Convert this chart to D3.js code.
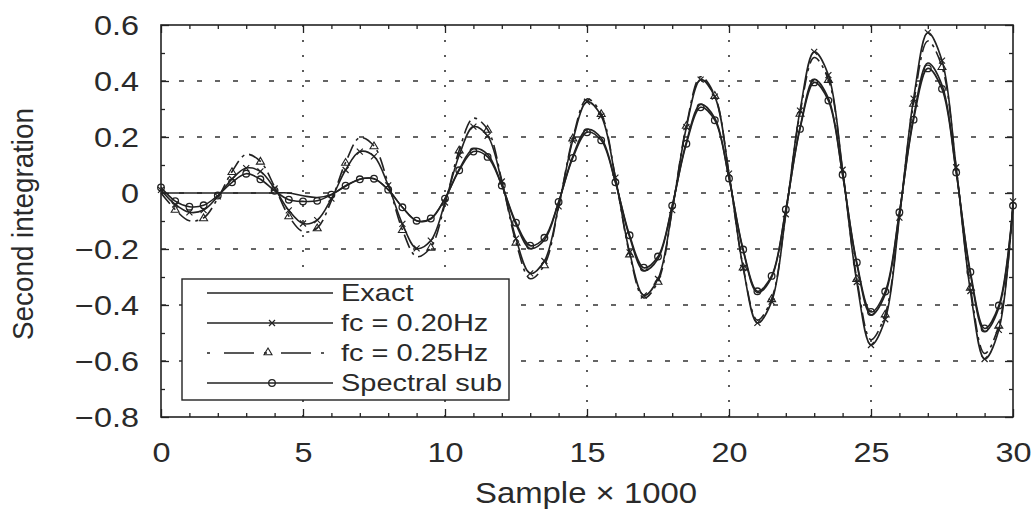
<!DOCTYPE html>
<html>
<head>
<meta charset="utf-8">
<script src="https://cdn.jsdelivr.net/npm/d3@7"></script>
<style>
  html, body { margin: 0; padding: 0; background: #fff; }
  svg { display: block; }
  text { font-family: "Liberation Sans", Arial, Helvetica, sans-serif; fill: #2a2a2a; }
</style>
</head>
<body>
<svg id="chart" width="1034" height="516"></svg>
<script>
// ---------------- data ----------------
const samples = [0,0.5,1,1.5,2,2.5,3,3.5,4,4.5,5,5.5,6,6.5,7,7.5,8,8.5,9,9.5,10,10.5,11,11.5,12,12.5,13,13.5,14,14.5,15,15.5,16,16.5,17,17.5,18,18.5,19,19.5,20,20.5,21,21.5,22,22.5,23,23.5,24,24.5,25,25.5,26,26.5,27,27.5,28,28.5,29,29.5,30];

const exact = [0,0,0,0,0,0,0,0,0,0,-0.01,-0.016,-0.005,0.024,0.049,0.051,0.012,-0.051,-0.099,-0.093,-0.02,0.085,0.158,0.138,0.028,-0.112,-0.198,-0.168,-0.034,0.131,0.227,0.196,0.04,-0.157,-0.277,-0.235,-0.047,0.182,0.316,0.267,0.053,-0.206,-0.356,-0.301,-0.06,0.234,0.405,0.338,0.066,-0.254,-0.435,-0.362,-0.071,0.272,0.464,0.386,0.076,-0.29,-0.494,-0.411,-0.05];

const fc020 = [0.011,-0.041,-0.069,-0.061,-0.012,0.05,0.089,0.077,0.016,-0.062,-0.109,-0.097,-0.02,0.082,0.148,0.131,0.027,-0.11,-0.198,-0.17,-0.034,0.135,0.237,0.204,0.041,-0.163,-0.287,-0.243,-0.048,0.188,0.326,0.275,0.055,-0.212,-0.366,-0.307,-0.061,0.235,0.405,0.344,0.069,-0.268,-0.464,-0.388,-0.076,0.294,0.504,0.421,0.083,-0.318,-0.543,-0.451,-0.088,0.337,0.573,0.473,0.092,-0.35,-0.593,-0.489,-0.03];

const fc025 = [0,-0.059,-0.099,-0.089,-0.019,0.076,0.138,0.113,0.022,-0.082,-0.138,-0.125,-0.027,0.109,0.198,0.168,0.034,-0.131,-0.227,-0.194,-0.039,0.153,0.267,0.227,0.045,-0.176,-0.306,-0.257,-0.051,0.196,0.336,0.283,0.056,-0.218,-0.375,-0.316,-0.062,0.241,0.415,0.348,0.069,-0.265,-0.454,-0.378,-0.074,0.284,0.484,0.405,0.08,-0.306,-0.524,-0.433,-0.084,0.32,0.543,0.451,0.088,-0.337,-0.573,-0.473,-0.04];

const spectral = [0.02,-0.029,-0.049,-0.044,-0.009,0.038,0.069,0.049,0.008,-0.024,-0.03,-0.028,-0.006,0.026,0.049,0.051,0.012,-0.051,-0.099,-0.091,-0.02,0.081,0.148,0.129,0.027,-0.106,-0.188,-0.16,-0.032,0.125,0.217,0.188,0.038,-0.151,-0.267,-0.227,-0.045,0.176,0.306,0.26,0.052,-0.202,-0.351,-0.296,-0.059,0.229,0.395,0.33,0.065,-0.248,-0.425,-0.352,-0.069,0.262,0.445,0.372,0.073,-0.282,-0.484,-0.402,-0.045];

const seriesNames = ["Exact", "fc = 0.20Hz", "fc = 0.25Hz", "Spectral sub"];

const xTicks = [0,5,10,15,20,25,30];
const xMinorTicks = [1,2,3,4,6,7,8,9,11,12,13,14,16,17,18,19,21,22,23,24,26,27,28,29];
const yTicks = [-0.8,-0.6,-0.4,-0.2,0,0.2,0.4,0.6];
const yMinorTicks = [-0.7,-0.5,-0.3,-0.1,0.1,0.3,0.5];
const xGrid = [5,10,15,20,25];
const yGrid = [-0.6,-0.4,-0.2,0,0.2,0.4];
const xLabel = "Sample \u00d7 1000";
const yLabel = "Second integration";

// ---------------- layout ----------------
const L = 161, R = 1013, T = 25, B = 417;
const ink = "#222";
const svg = d3.select("#chart");
const x = d3.scaleLinear().domain([0, 30]).range([L, R]);
const y = d3.scaleLinear().domain([-0.8, 0.6]).range([B, T]);

// grid
svg.append("g").selectAll("line").data(yGrid).join("line")
  .attr("x1", L).attr("x2", R).attr("y1", d => y(d)).attr("y2", d => y(d))
  .attr("stroke", "#333").attr("stroke-width", 1.4).attr("stroke-dasharray", "5,13");
svg.append("g").selectAll("line").data(xGrid).join("line")
  .attr("y1", T).attr("y2", B).attr("x1", d => x(d)).attr("x2", d => x(d))
  .attr("stroke", "#333").attr("stroke-width", 1.6).attr("stroke-dasharray", "2,13");

// curves
const pts = arr => samples.map((s, i) => [s, arr[i]]);
const line = d3.line().x(d => x(d[0])).y(d => y(d[1])).curve(d3.curveCatmullRom.alpha(0.5));
const curves = svg.append("g").attr("fill", "none").attr("stroke", ink).attr("stroke-width", 1.6);
curves.append("path").attr("d", line(pts(exact)));
curves.append("path").attr("d", line(pts(fc020)));
curves.append("path").attr("d", line(pts(fc025))).attr("stroke-dasharray", "14,5,3,5");
curves.append("path").attr("d", line(pts(spectral)));

// marker helpers
const xMark = (g, cx, cy, s) => {
  g.append("path").attr("d", `M${cx-s},${cy-s}L${cx+s},${cy+s}M${cx-s},${cy+s}L${cx+s},${cy-s}`)
    .attr("stroke", ink).attr("stroke-width", 1.2).attr("fill", "none");
};
const triMark = (g, cx, cy, s) => {
  g.append("path").attr("d", `M${cx},${cy-s}L${cx+s},${cy+s*0.7}L${cx-s},${cy+s*0.7}Z`)
    .attr("stroke", ink).attr("stroke-width", 1.1).attr("fill", "none");
};
const circMark = (g, cx, cy, r) => {
  g.append("circle").attr("cx", cx).attr("cy", cy).attr("r", r)
    .attr("stroke", ink).attr("stroke-width", 1.3).attr("fill", "none");
};
const marks = svg.append("g");
pts(fc020).forEach(d => xMark(marks, x(d[0]), y(d[1]), 3));
pts(fc025).forEach((d, i) => { if (i % 2 === 1) triMark(marks, x(d[0]), y(d[1]), 4); });
pts(spectral).forEach(d => circMark(marks, x(d[0]), y(d[1]), 3.3));

// ticks (inside, all four sides)
function ticksG(axis, transform) {
  const g = svg.append("g").attr("transform", transform).call(axis);
  g.select(".domain").remove();
  g.selectAll("line").attr("stroke", ink).attr("stroke-width", 1.3);
  g.selectAll("text").remove();
  return g;
}
ticksG(d3.axisBottom(x).tickValues(xTicks).tickSize(-8), `translate(0,${B})`);
ticksG(d3.axisBottom(x).tickValues(xMinorTicks).tickSize(-4), `translate(0,${B})`);
ticksG(d3.axisTop(x).tickValues(xTicks).tickSize(-8), `translate(0,${T})`);
ticksG(d3.axisTop(x).tickValues(xMinorTicks).tickSize(-4), `translate(0,${T})`);
ticksG(d3.axisLeft(y).tickValues(yTicks).tickSize(-8), `translate(${L},0)`);
ticksG(d3.axisLeft(y).tickValues(yMinorTicks).tickSize(-4), `translate(${L},0)`);
ticksG(d3.axisRight(y).tickValues(yTicks).tickSize(-8), `translate(${R},0)`);
ticksG(d3.axisRight(y).tickValues(yMinorTicks).tickSize(-4), `translate(${R},0)`);

// tick labels via axes
const sxTick = 1.2;
const fmtY = d => d === 0 ? "0" : d3.format(".1f")(d).replace("-", "\u2212");
const xl = svg.append("g").attr("transform", `translate(0,${B})`)
  .call(d3.axisBottom(x).tickValues(xTicks).tickSize(0).tickPadding(26).tickFormat(d3.format("d")));
xl.select(".domain").remove();
xl.selectAll("text").attr("font-size", 27).attr("dy", "0.72em")
  .attr("font-family", '"Liberation Sans", Arial, sans-serif').attr("fill", "#2a2a2a")
  .attr("transform", `scale(${sxTick},1)`);
const yl = svg.append("g").attr("transform", `translate(${L},0)`)
  .call(d3.axisLeft(y).tickValues(yTicks).tickSize(0).tickPadding(22).tickFormat(fmtY));
yl.select(".domain").remove();
yl.selectAll("text").attr("font-size", 27).attr("dy", "0.36em")
  .attr("font-family", '"Liberation Sans", Arial, sans-serif').attr("fill", "#2a2a2a")
  .attr("x", -22 / sxTick).attr("transform", `scale(${sxTick},1)`);

// axis titles
svg.append("g").attr("transform", `translate(586,503)`)
  .append("text").attr("text-anchor", "middle").attr("font-size", 29)
  .attr("textLength", 222).attr("lengthAdjust", "spacingAndGlyphs").text(xLabel);
svg.append("g").attr("transform", `translate(33,224) scale(1.1,1) rotate(-90)`)
  .append("text").attr("text-anchor", "middle").attr("font-size", 26)
  .attr("textLength", 232).attr("lengthAdjust", "spacingAndGlyphs").text(yLabel);

// frame
svg.append("rect").attr("x", L).attr("y", T).attr("width", R - L).attr("height", B - T)
  .attr("fill", "none").attr("stroke", ink).attr("stroke-width", 1.6);

// legend
const lg = svg.append("g");
lg.append("rect").attr("x", 182).attr("y", 279).attr("width", 327).attr("height", 121)
  .attr("fill", "#fff").attr("stroke", ink).attr("stroke-width", 1.4);
const rowY = d3.scalePoint().domain(seriesNames).range([293, 383]);
seriesNames.forEach((name, i) => {
  const yy = rowY(name);
  const ln = lg.append("line").attr("x1", 207).attr("x2", 333).attr("y1", yy).attr("y2", yy)
    .attr("stroke", ink).attr("stroke-width", 1.4);
  if (i === 2) ln.attr("stroke-dasharray", "3,14,30,10");
  if (i === 1) xMark(lg, 272, yy, 3);
  if (i === 2) triMark(lg, 268, yy - 1, 4);
  if (i === 3) circMark(lg, 272, yy, 3.3);
  lg.append("g").attr("transform", `translate(341,${yy + 8}) scale(1.26,1)`)
    .append("text").attr("font-size", 23).text(name);
});
</script>
</body>
</html>
